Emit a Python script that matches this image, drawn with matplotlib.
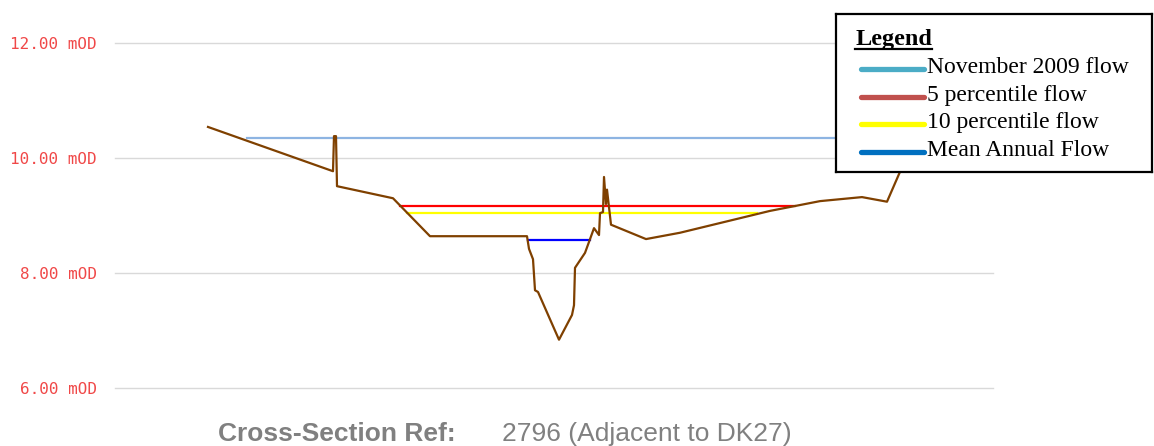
import matplotlib.pyplot as plt
from matplotlib.lines import Line2D

# ground profile: chainage along section and bed level (mOD)
chainage = [93, 218, 219, 221, 222, 278, 315, 412, 414, 418, 420, 423, 444,
            457, 459, 460, 470, 474, 479, 484, 485, 488, 489, 491, 492, 496,
            531, 565, 655, 705, 747, 772, 785, 797]
bed_level = [10.54, 9.77, 10.38, 10.38, 9.51, 9.30, 8.64, 8.64, 8.42, 8.24,
             7.70, 7.67, 6.84, 7.27, 7.44, 8.09, 8.35, 8.54, 8.78, 8.66,
             9.04, 9.06, 9.67, 9.20, 9.45, 8.84, 8.59, 8.70, 9.08, 9.25,
             9.32, 9.24, 9.76, 10.14]

# water levels: (name, level, start, end)
flow_names = ["November 2009 flow", "5 percentile flow", "10 percentile flow",
              "Mean Annual Flow"]
flow_levels = [10.35, 9.165, 9.043, 8.574]
flow_start = [132, 285, 292, 413]
flow_end = [790, 680, 642, 475]
plot_colors = ["#8db4e2", "#ff0000", "#ffff00", "#0000ff"]
legend_colors = ["#4bacc6", "#c0504d", "#ffff00", "#0070c0"]

yticks = [6, 8, 10, 12]
ytick_labels = ["6.00 mOD", "8.00 mOD", "10.00 mOD", "12.00 mOD"]

W, H = 1154, 446
fig = plt.figure(figsize=(W / 100, H / 100), dpi=100)
ax = fig.add_axes([115 / W, (H - 388) / H, 878 / W, 345 / H])
ax.set_xlim(0, 878)
ax.set_ylim(6, 12)
for s in ax.spines.values():
    s.set_visible(False)
ax.set_xticks([])
ax.set_yticks(yticks)
ax.set_yticklabels(ytick_labels, family="DejaVu Sans Mono", fontsize=11.5,
                   color="#f04848")
ax.tick_params(axis="y", length=0, pad=13)
for y in yticks:
    ax.axhline(y, color="#d9d9d9", lw=1, zorder=1, clip_on=False)

for lev, x0, x1, c in zip(flow_levels, flow_start, flow_end, plot_colors):
    ax.plot([x0, x1], [lev, lev], color=c, lw=1.6, zorder=2)

ax.plot(chainage, bed_level, color="#7f4000", lw=1.6, zorder=3)

# legend box
lx0, ly0, lw_, lh = 836, 14, 316, 158
lax = fig.add_axes([lx0 / W, (H - ly0 - lh) / H, lw_ / W, lh / H])
lax.set_xlim(0, lw_)
lax.set_ylim(lh, 0)
lax.set_xticks([])
lax.set_yticks([])
for s in lax.spines.values():
    s.set_linewidth(1.6)
    s.set_color("black")
lax.text(20, 31, "Legend", family="Liberation Serif", weight="bold",
         fontsize=17.5, va="baseline")
lax.add_line(Line2D([19, 96], [35, 35], color="black", lw=1.6))
for i, (name, c) in enumerate(zip(flow_names, legend_colors)):
    yy = 55 + i * 27.5
    lax.add_line(Line2D([25, 88], [yy, yy], color=c, lw=3.8,
                        solid_capstyle="round"))
    lax.text(91, yy + 4, name, family="Liberation Serif", fontsize=17,
             va="baseline")

fig.text(218 / W, (H - 441) / H, "Cross-Section Ref:", family="Liberation Sans",
         weight="bold", fontsize=19, color="#808080", va="baseline")
fig.text(502 / W, (H - 441) / H, "2796 (Adjacent to DK27)",
         family="Liberation Sans", fontsize=19, color="#808080", va="baseline")

fig.savefig("out.png", dpi=100)
